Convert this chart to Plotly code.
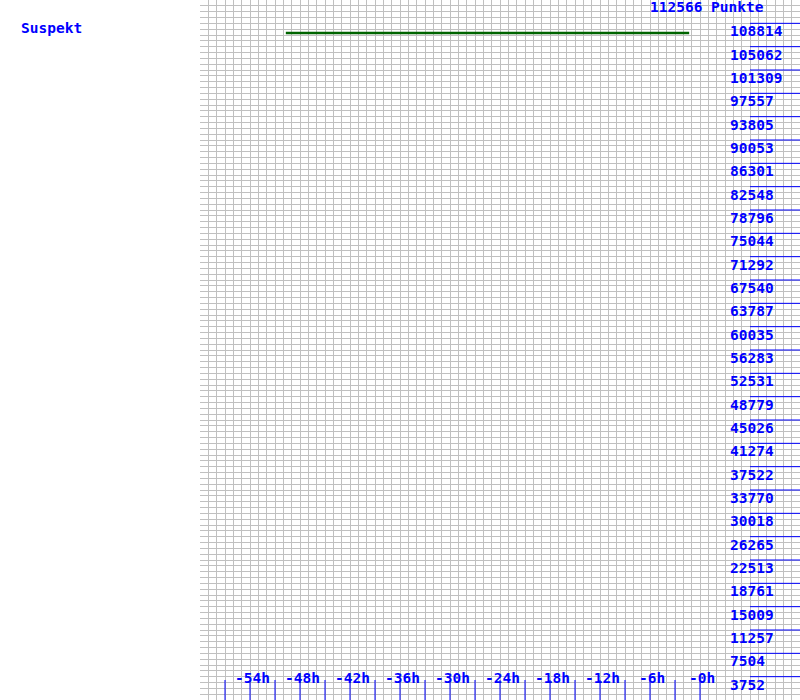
import plotly.graph_objects as go

# ---- data ----
axis_top = 112566
title_text = "112566 Punkte"
series_name = "Suspekt"
y_label_values = [108814, 105062, 101309, 97557, 93805, 90053, 86301, 82548,
                  78796, 75044, 71292, 67540, 63787, 60035, 56283, 52531,
                  48779, 45026, 41274, 37522, 33770, 30018, 26265, 22513,
                  18761, 15009, 11257, 7504, 3752]
x_label_hours = [-54, -48, -42, -36, -30, -24, -18, -12, -6, 0]
x_label_texts = ["-54h", "-48h", "-42h", "-36h", "-30h", "-24h", "-18h",
                 "-12h", "-6h", "-0h"]
x_tick_hours = [-57, -54, -51, -48, -45, -42, -39, -36, -33, -30, -27, -24,
                -21, -18, -15, -12, -9, -6, -3, 0]
series_hours = [-49.7, -1.3]
series_points = [107260, 107260]

W, H = 800, 700
BLUE = "#0000ff"
GRID = "#c0c0c0"
FONT = "DejaVu Sans Mono"
FS = 14.5

def tfont():
    return dict(family=FONT, size=FS, color=BLUE, weight="bold")

fig = go.Figure()

# right-side value marker lines
lx, ly = [], []
for v in y_label_values:
    lx += [6, 12, None]
    ly += [v, v, None]
fig.add_trace(go.Scatter(x=lx, y=ly, mode="lines",
                         line=dict(color=BLUE, width=1),
                         hoverinfo="skip", showlegend=False))

# bottom tick marks
tick_len_val = axis_top * 20 / H
tx, ty = [], []
for t in x_tick_hours:
    tx += [t, t, None]
    ty += [0, tick_len_val, None]
fig.add_trace(go.Scatter(x=tx, y=ty, mode="lines",
                         line=dict(color=BLUE, width=1),
                         hoverinfo="skip", showlegend=False))

# the series
fig.add_trace(go.Scatter(x=series_hours, y=series_points, mode="lines",
                         line=dict(color="#006400", width=2.5),
                         name=series_name, showlegend=False))

annotations = []
for v in y_label_values:
    annotations.append(dict(x=729 / W, xref="paper", xanchor="left",
                            y=v, yref="y", yanchor="middle", yshift=-8,
                            text=str(v), showarrow=False,
                            font=tfont(), borderpad=0))
for h, t in zip(x_label_hours, x_label_texts):
    annotations.append(dict(x=h, xref="x", xanchor="center", xshift=2,
                            y=0, yref="paper", yanchor="middle", yshift=22,
                            text=t, showarrow=False,
                            font=tfont(), borderpad=0))
annotations.append(dict(x=649 / W, xref="paper", xanchor="left",
                        y=1 - 7.5 / H, yref="paper", yanchor="middle",
                        text=title_text, showarrow=False,
                        font=tfont(), borderpad=0))
annotations.append(dict(x=20 / W, xref="paper", xanchor="left",
                        y=1 - 28 / H, yref="paper", yanchor="middle",
                        text=series_name, showarrow=False,
                        font=tfont(), borderpad=0))

fig.update_layout(
    width=W, height=H,
    margin=dict(l=0, r=0, t=0, b=0),
    paper_bgcolor="white", plot_bgcolor="white",
    xaxis=dict(domain=[200 / W, 1], range=[-60, 12], tick0=0, dtick=1,
               showgrid=True, gridcolor=GRID, gridwidth=1,
               zeroline=False, showticklabels=False, ticks="",
               showline=False, fixedrange=True),
    yaxis=dict(domain=[0, 1], range=[0, axis_top], tick0=0,
               dtick=axis_top / 120,
               showgrid=True, gridcolor=GRID, gridwidth=1,
               zeroline=False, showticklabels=False, ticks="",
               showline=False, fixedrange=True),
    annotations=annotations,
    showlegend=False,
)

fig.write_html("out.html")
